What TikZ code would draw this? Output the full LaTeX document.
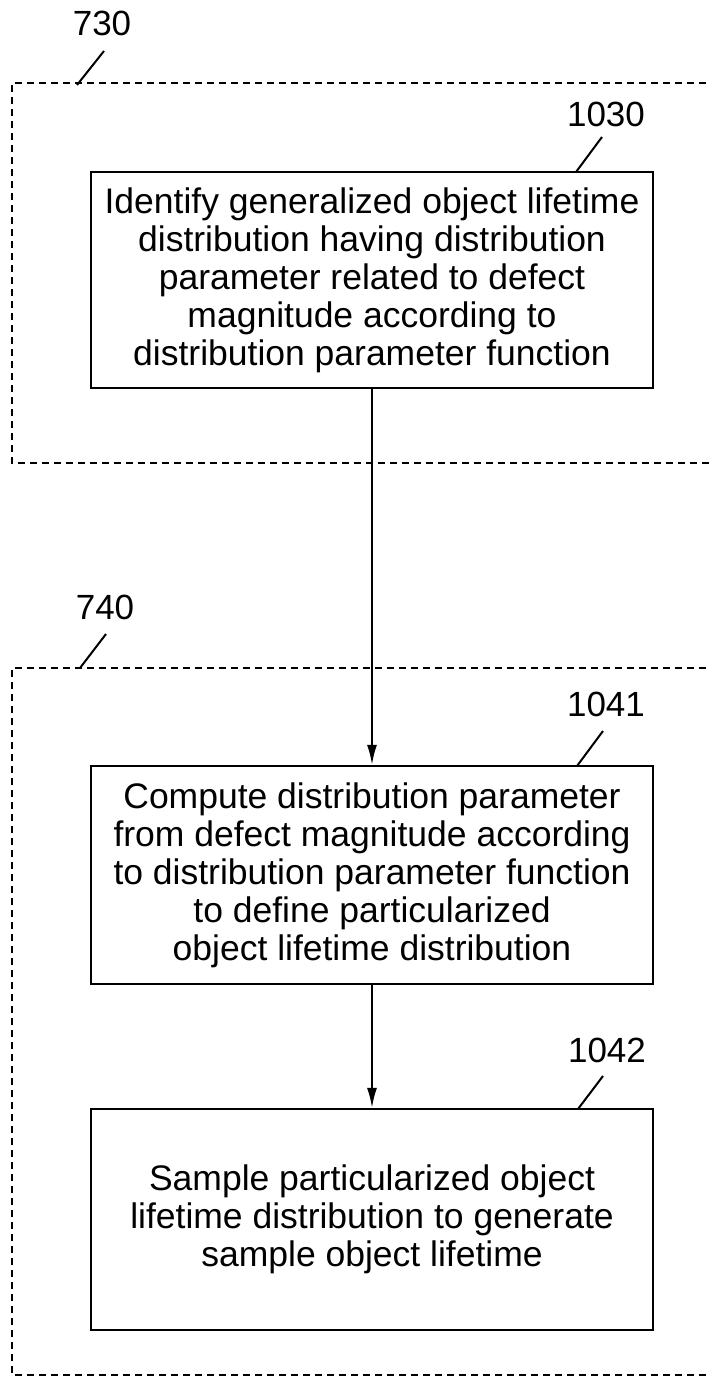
\documentclass[tikz,border=0pt]{standalone}
\usepackage{fontspec}
\setmainfont{Liberation Sans}
\usetikzlibrary{arrows.meta}
\begin{document}
\begin{tikzpicture}[x=1pt,y=-1pt,
  stepbox/.style={draw, line width=2.3pt, rectangle, minimum width=562pt,
    inner sep=0pt, align=center, font=\fontsize{35.5}{38}\selectfont},
  reflabel/.style={inner sep=0pt, font=\fontsize{35}{38}\selectfont},
  leader/.style={line width=2pt},
  groupframe/.style={line width=2.4pt, dash pattern=on 7pt off 5pt},
  flow/.style={line width=2pt, -{Latex[length=20pt,width=10pt]}}]
\useasboundingbox (0,0) rectangle (710,1378);
\clip (0,0) rectangle (710,1378);
\fill[white] (0,0) rectangle (710,1378);

% group frames
\draw[groupframe] (730,83) -- (12,83) -- (12,463) -- (730,463);
\draw[groupframe] (730,668) -- (12,668) -- (12,1375) -- (730,1375);

% process boxes
\node[stepbox, minimum height=216pt] (b1030) at (372,280)
  {Identify generalized object lifetime\\
   distribution having distribution\\
   parameter related to defect\\
   magnitude according to\\
   distribution parameter function};
\node[stepbox, minimum height=218pt] (b1041) at (372,875)
  {Compute distribution parameter\\
   from defect magnitude according\\
   to distribution parameter function\\
   to define particularized\\
   object lifetime distribution};
\node[stepbox, minimum height=221pt] (b1042) at (372,1219.5)
  {Sample particularized object\\
   lifetime distribution to generate\\
   sample object lifetime};

% connectors
\draw[flow] (b1030.south) -- (b1041.north);
\draw[flow] (b1041.south) -- (b1042.north);

% reference labels
\node[reflabel] (l730) at (102,23) {730};
\node[reflabel] (l740) at (105,607) {740};
\node[reflabel] (l1030) at (606,114) {1030};
\node[reflabel] (l1041) at (606,704) {1041};
\node[reflabel] (l1042) at (607,1050) {1042};

\coordinate (s730a) at (77,85);   \coordinate (s730b) at (104,51);
\coordinate (s740a) at (80,668);  \coordinate (s740b) at (106,634);
\coordinate (s1030a) at (576,172); \coordinate (s1030b) at (602,137);
\coordinate (s1041a) at (577,766); \coordinate (s1041b) at (603,731);
\coordinate (s1042a) at (578,1109); \coordinate (s1042b) at (603,1076);

\draw[leader] (s730a) -- (s730b);
\draw[leader] (s740a) -- (s740b);
\draw[leader] (s1030a) -- (s1030b);
\draw[leader] (s1041a) -- (s1041b);
\draw[leader] (s1042a) -- (s1042b);
\end{tikzpicture}
\end{document}
